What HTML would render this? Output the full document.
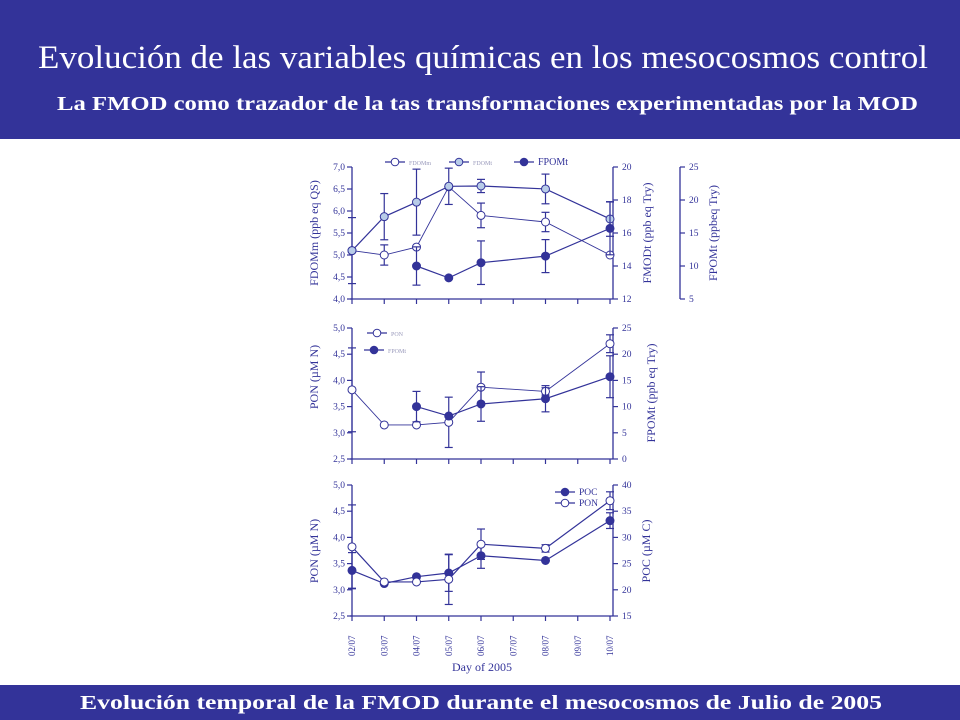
<!DOCTYPE html>
<html><head><meta charset="utf-8"><style>
body{margin:0;width:960px;height:720px;background:#fff;overflow:hidden;position:relative;font-family:"Liberation Serif",serif}
.band{position:absolute;left:0;width:960px;background:#333399}
</style></head><body>
<div class="band" style="top:0;height:139px"></div>
<div class="band" style="top:685px;height:35px"></div>
<svg width="960" height="720" style="position:absolute;left:0;top:0">
<text x="38" y="68" font-size="33" fill="#fff" textLength="890" lengthAdjust="spacingAndGlyphs" font-family="Liberation Serif">Evolución de las variables químicas en los mesocosmos control</text>
<text x="57" y="110" font-size="20" font-weight="bold" fill="#fff" textLength="861" lengthAdjust="spacingAndGlyphs" font-family="Liberation Serif">La FMOD como trazador de la tas transformaciones experimentadas por la MOD</text>
<text x="80" y="709" font-size="20" font-weight="bold" fill="#fff" textLength="802" lengthAdjust="spacingAndGlyphs" font-family="Liberation Serif">Evolución temporal de la FMOD durante el mesocosmos de Julio de  2005</text>
</svg>
<svg id="c" width="960" height="720" style="position:absolute;left:0;top:0"></svg>
<script>
const days=[2,3,4,5,6,7,8,9,10];
const dayLabels=["02/07","03/07","04/07","05/07","06/07","07/07","08/07","09/07","10/07"];
// panel 1
const fdomDays=[2,3,4,5,6,8,10];
const fdomM=[5.1,5.0,5.18,6.55,5.9,5.75,5.0];
const fdomMErr=[0.75,0.23,0,0,0.28,0.22,0];
const fdomT=[14.93,16.99,17.87,18.83,18.85,18.67,16.85];
const fdomTErr=[0,1.4,2.0,1.1,0.4,0.9,1.05];
const fpomDays=[4,5,6,8,10];
const fpomT=[10,8.2,10.5,11.5,15.7];
const fpomTErr=[2.9,0,3.3,2.5,4.0];
// panel 2/3
const ponDays=[2,3,4,5,6,8,10];
const pon=[3.82,3.15,3.15,3.2,3.87,3.79,4.7];
const ponErr=[0.8,0,0,0.48,0.29,0.07,0.17];
const pocDays=[2,3,4,5,6,8,10];
const poc=[23.7,21.2,22.5,23.2,26.5,25.6,33.2];
const pocErr=[3.4,0,0,3.5,2.4,0,1.5];
const leftTicks1=["4,0","4,5","5,0","5,5","6,0","6,5","7,0"];
const leftTicks2=["2,5","3,0","3,5","4,0","4,5","5,0"];

const S=document.getElementById('c');const NS="http://www.w3.org/2000/svg";const C="#333399";
function el(t,a,txt){const e=document.createElementNS(NS,t);for(const k in a)e.setAttribute(k,a[k]);if(txt!==undefined)e.textContent=txt;S.appendChild(e);return e;}
const X=d=>352+(d-2)*32.25;
function yS(y0,y1,v0,v1){return v=>y1-(v-v0)/(v1-v0)*(y1-y0);}
function axisY(x,y0,y1,v0,v1,step,labels,side,name){
  const e=el('line',{x1:x,x2:x,y1:y0,y2:y1,stroke:C,'stroke-width':1.3});
  
  const s=yS(y0,y1,v0,v1);
  labels.forEach((l,i)=>{const v=v0+i*step,y=s(v);
    el('line',{x1:side<0?x-5:x,x2:side<0?x:x+5,y1:y,y2:y,stroke:C,'stroke-width':1.2});
    const t=el('text',{x:side<0?x-7:x+9,y:y+3,'font-size':9.5,fill:C,'text-anchor':side<0?'end':'start'},l);
    });
}
function axisX(y,name){const e=el('line',{x1:350,x2:613,y1:y,y2:y,stroke:C,'stroke-width':1.3});
  
  days.forEach(d=>el('line',{x1:X(d),x2:X(d),y1:y,y2:y+5,stroke:C,'stroke-width':1.2}));}
function title(x,y,txt,name){const t=el('text',{x:x,y:y,'font-size':12,fill:C,'text-anchor':'middle',transform:`rotate(-90 ${x} ${y})`},txt);
  }
function series(ds,vals,errs,s,fill,name,thin){
  const pts=ds.map((d,i)=>X(d)+','+s(vals[i])).join(' ');
  const p=el('polyline',{points:pts,fill:'none',stroke:C,'stroke-width':thin?0.9:1.2});
  
  ds.forEach((d,i)=>{if(errs[i]>0){const x=X(d),a=s(vals[i]-errs[i]),b=s(vals[i]+errs[i]);
    el('line',{x1:x,x2:x,y1:a,y2:b,stroke:C,'stroke-width':1.2});
    el('line',{x1:x-4,x2:x+4,y1:a,y2:a,stroke:C,'stroke-width':1.2});
    el('line',{x1:x-4,x2:x+4,y1:b,y2:b,stroke:C,'stroke-width':1.2});}});
  ds.forEach((d,i)=>{const c=el('circle',{cx:X(d),cy:s(vals[i]),r:4,fill:fill,stroke:C,'stroke-width':1});
    });
}
function legend(x,y,fill,txt,size,col,name){el('line',{x1:x-10,x2:x+10,y1:y,y2:y,stroke:C,'stroke-width':1.2});
  const c=el('circle',{cx:x,cy:y,r:3.8,fill:fill,stroke:C});
  const t=el('text',{x:x+14,y:y+3,'font-size':size,fill:col},txt);}

// Panel 1
const s1L=yS(167,299,4,7),s1R=yS(167,299,12,20),s1F=yS(167,299,5,25);
axisY(352,167,299,4,7,0.5,leftTicks1,-1,'fdomm-y-axis');
axisY(613,167,299,12,20,2,["12","14","16","18","20"],1,'fmodt-y-axis');
axisY(680,167,299,5,25,5,["5","10","15","20","25"],1,'fpomt-y-axis');
axisX(299,'x-axis-panel1');
title(318,233,'FDOMm (ppb eq QS)','fdomm-axis-title');
title(651,233,'FMODt (ppb eq Try)','fmodt-axis-title');
title(717,233,'FPOMt (ppbeq Try)','fpomt-axis-title');
series(fdomDays,fdomM,fdomMErr,s1L,'#fff','fdomm',true);
series(fdomDays,fdomT,fdomTErr,s1R,'#b8cce8','fdomt',false);
series(fpomDays,fpomT,fpomTErr,s1F,C,'fpomt-p1',false);
legend(395,162,'#fff','FDOMm',6,'#9999bb','legend-fdomm');
legend(459,162,'#b8cce8','FDOMt',6,'#9999bb','legend-fdomt');
legend(524,162,C,'FPOMt',10,C,'legend-fpomt');

// Panel 2
const s2L=yS(328,459,2.5,5),s2R=yS(328,459,0,25);
axisY(352,328,459,2.5,5,0.5,leftTicks2,-1,'pon-y-axis-p2');
axisY(613,328,459,0,25,5,["0","5","10","15","20","25"],1,'fpomt-y-axis-p2');
axisX(459,'x-axis-panel2');
title(318,377,'PON (\u00b5M N)','pon-axis-title-p2');
title(655,393,'FPOMt (ppb eq Try)','fpomt-axis-title-p2');
series(ponDays,pon,ponErr,s2L,'#fff','pon-p2',true);
series(fpomDays,fpomT,fpomTErr,s2R,C,'fpomt-p2',false);
legend(377,333,'#fff','PON',6,'#9999bb','legend-pon-p2');
legend(374,350,C,'FPOMt',6,'#9999bb','legend-fpomt-p2');

// Panel 3
const s3L=yS(485,616,2.5,5),s3R=yS(485,616,15,40);
axisY(352,485,616,2.5,5,0.5,leftTicks2,-1,'pon-y-axis-p3');
axisY(613,485,616,15,40,5,["15","20","25","30","35","40"],1,'poc-y-axis');
axisX(616,'x-axis-panel3');
title(318,551,'PON (\u00b5M N)','pon-axis-title-p3');
title(650,551,'POC (\u00b5M C)','poc-axis-title');
series(pocDays,poc,pocErr,s3R,C,'poc',false);
series(ponDays,pon,ponErr,s3L,'#fff','pon-p3',false);
legend(565,492,C,'POC',9.5,C,'legend-poc');
legend(565,503,'#fff','PON',9.5,C,'legend-pon-p3');
days.forEach((d,i)=>{const x=X(d)+3,y=656;
  const t=el('text',{x:x,y:y,'font-size':9,fill:C,transform:`rotate(-90 ${x} ${y})`},dayLabels[i]);
  });
const xt=el('text',{x:482,y:671,'font-size':12,fill:C,'text-anchor':'middle'},'Day of  2005');

</script>
</body></html>
